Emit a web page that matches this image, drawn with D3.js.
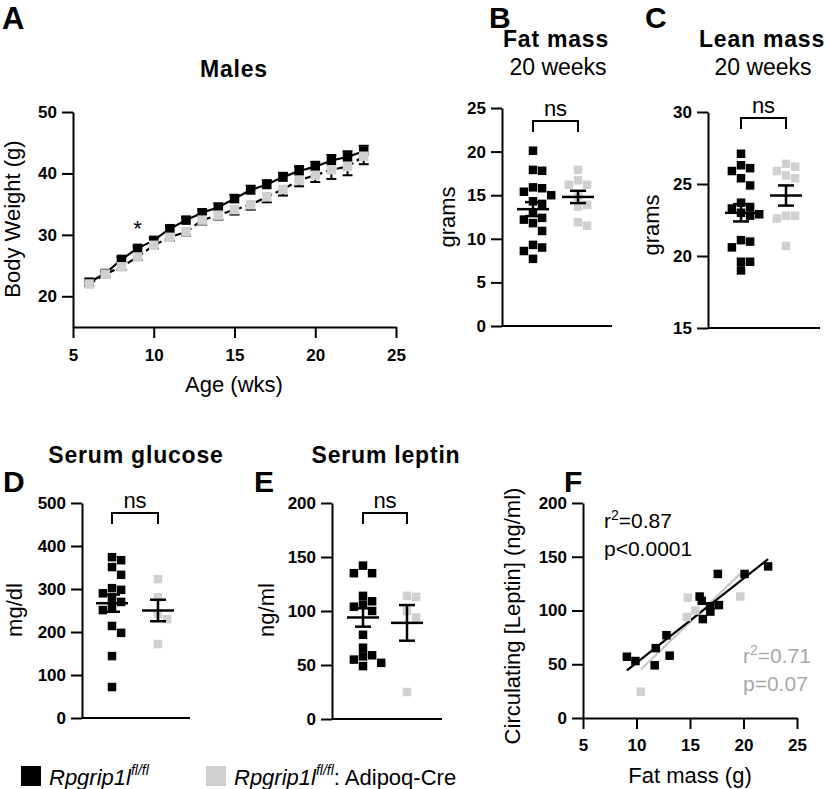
<!DOCTYPE html>
<html><head><meta charset="utf-8">
<script src="https://cdn.jsdelivr.net/npm/d3@7"></script>
<style>
body{margin:0;background:#fff;}
svg{font-family:"Liberation Sans",Arial,sans-serif;}
</style></head>
<body><svg id="c" width="830" height="789"></svg>
<script>
// ---------- DATA ----------
const groups = ["ctrl", "cre"];
const colors = {ctrl: "#000000", cre: "#d0d0d0"};
// Panel A: body weight by age
const weeks = [6,7,8,9,10,11,12,13,14,15,16,17,18,19,20,21,22,23];
const weightCtrl = [22.3,23.7,26.0,27.8,29.1,31.0,32.4,33.6,34.5,35.9,37.3,38.2,39.4,40.4,41.1,42.1,42.7,43.6];
const weightCre  = [22.0,23.6,24.8,26.4,28.3,29.6,30.5,32.4,33.2,34.1,34.9,36.2,37.4,38.9,39.7,40.6,41.1,42.8];
const weightCtrlSem = [0.3,0.3,0.4,0.4,0.4,0.5,0.5,0.5,0.6,0.6,0.7,0.7,0.7,0.8,0.8,0.9,0.9,0.9];
const weightCreSem  = [0.3,0.4,0.5,0.5,0.5,0.6,0.6,0.7,0.7,0.8,0.8,0.9,1.0,1.0,1.1,1.5,1.4,1.3];
const ageTicks = [5,10,15,20,25];
const weightTicks = [20,30,40,50];
// Panel B: fat mass
const fatCtrl = [20.1,17.9,17.8,15.9,15.8,15.4,15.0,14.3,14.0,13.0,12.4,12.2,11.8,10.9,9.3,9.0,8.6,7.7];
const fatCre  = [17.9,16.7,16.2,16.2,14.8,13.9,13.7,11.9,11.5];
const fatMean = [13.4,14.8], fatSem = [0.8,0.7];
const fatTicks = [0,5,10,15,20,25];
// Panel C: lean mass
const leanCtrl = [27.1,26.3,26.1,25.9,25.4,24.9,23.7,23.4,23.3,23.0,22.9,22.8,21.1,21.0,20.6,19.6,19.6,19.0];
const leanCre  = [26.4,26.2,25.9,25.6,25.4,22.8,22.6,22.8,20.7];
const leanMean = [23.0,24.2], leanSem = [0.6,0.7];
const leanTicks = [15,20,25,30];
// Panel D: serum glucose
const gluCtrl = [374,367,351,333,302,298,290,280,270,258,251,214,198,144,72];
const gluCre  = [323,281,242,230,172];
const gluMean = [267,250], gluSem = [20,25];
const gluTicks = [0,100,200,300,400,500];
// Panel E: serum leptin
const lepCtrl = [142,135,135,114,109,106,104,100,78,66,59,58,55,52,49];
const lepCre  = [113,114,100,94,25];
const lepMean = [94,89], lepSem = [8.5,16.5];
const lepTicks = [0,50,100,150,200];
// Panel F: leptin vs fat mass
const corrCtrlFat = [9.1,9.9,11.8,11.7,12.8,13.1,15.9,16.1,16.2,16.9,16.9,17.7,17.6,20.1,22.3];
const corrCtrlLep = [57,53,65,49,77,58,113,109,92,99,104,105,134,134,141];
const corrCreFat = [10.4,14.8,14.7,15.5,19.7];
const corrCreLep = [24.5,112,94,100,113];
const fitSlope = [7.85,9.6], fitIntercept = [-27.2,-54.8];
const corrTicksX = [5,10,15,20,25];
const corrTicksY = [0,50,100,150,200];

// ---------- DRAW ----------
const svg = d3.select("#c");
const TICKFONT = "bold 17px 'Liberation Sans',Arial,sans-serif";

function styleAxis(g){
  g.selectAll("path,line").attr("stroke","#000").attr("stroke-width",2);
  g.selectAll("text").style("font", TICKFONT).attr("fill","#000");
}
function leftAxis(scale, x, ticks){
  const g = svg.append("g").attr("transform",`translate(${x},0)`)
    .call(d3.axisLeft(scale).tickValues(ticks).tickSize(11).tickSizeOuter(0).tickPadding(5));
  styleAxis(g); return g;
}
function bottomAxis(scale, y, ticks, pad){
  const g = svg.append("g").attr("transform",`translate(0,${y})`)
    .call(d3.axisBottom(scale).tickValues(ticks).tickSize(11).tickSizeOuter(0).tickPadding(pad));
  styleAxis(g); return g;
}
function text(x,y,s,opts={}){
  const t = svg.append("text").attr("x",x).attr("y",y).text(s)
    .attr("font-size",opts.size||22).attr("font-weight",opts.bold?"bold":"normal")
    .attr("text-anchor",opts.anchor||"middle").attr("fill",opts.fill||"#000");
  if(opts.ls) t.attr("letter-spacing",opts.ls);
  if(opts.rotate) t.attr("transform",`rotate(-90,${x},${y})`);
  return t;
}
function title(x,y,s){ return text(x,y,s,{bold:true,size:23,ls:0.8}); }
function rotLabel(x,y,s){ return text(x,y,s,{rotate:true}); }

function swarm(values, yScale, cx, size){
  const pts = values.map(v=>({v, y:yScale(v)})).sort((a,b)=>a.y-b.y);
  const placed=[]; const step=size+0.6;
  pts.forEach(p=>{
    for(let k=0;k<30;k++){
      const off=(k%2===1?1:-1)*Math.ceil(k/2)*step;
      const x=cx+off;
      if(placed.every(q=>Math.abs(q.x-x)>=size*0.98||Math.abs(q.y-p.y)>=size*0.98)){p.x=x;break;}
    }
    placed.push(p);
  });
  return pts;
}

function dotPanel(cfg){
  const y = d3.scaleLinear().domain(cfg.domain).range([cfg.bottom, cfg.top]);
  const x = d3.scalePoint().domain(groups).range(cfg.centers);
  leftAxis(y, cfg.axisX, cfg.ticks);
  svg.append("line").attr("x1",cfg.axisX).attr("x2",cfg.axisEnd).attr("y1",cfg.bottom).attr("y2",cfg.bottom)
    .attr("stroke","#000").attr("stroke-width",2);
  const S=8.5;
  [cfg.ctrl,cfg.cre].forEach((vals,gi)=>{
    const pts = swarm(vals,y,x(groups[gi]),S);
    svg.append("g").selectAll("rect").data(pts).join("rect")
      .attr("x",d=>d.x-S/2).attr("y",d=>d.y-S/2).attr("width",S).attr("height",S)
      .attr("fill",colors[groups[gi]]);
  });
  groups.forEach((g,gi)=>{
    const cx=x(g), m=cfg.mean[gi], s=cfg.sem[gi];
    const G=svg.append("g").attr("stroke","#000").attr("stroke-width",2.5);
    G.append("line").attr("x1",cx-16).attr("x2",cx+16).attr("y1",y(m)).attr("y2",y(m));
    G.append("line").attr("x1",cx).attr("x2",cx).attr("y1",y(m-s)).attr("y2",y(m+s));
    G.append("line").attr("x1",cx-8).attr("x2",cx+8).attr("y1",y(m-s)).attr("y2",y(m-s));
    G.append("line").attr("x1",cx-8).attr("x2",cx+8).attr("y1",y(m+s)).attr("y2",y(m+s));
  });
  const bx1=x(groups[0]), bx2=x(groups[1]);
  svg.append("path").attr("d",`M${bx1},${cfg.brY+11}V${cfg.brY}H${bx2}V${cfg.brY+11}`)
    .attr("fill","none").attr("stroke","#000").attr("stroke-width",2);
  text((bx1+bx2)/2, cfg.brY-5, "ns");
  return y;
}

// ----- Panel A -----
{
  const x = d3.scaleLinear().domain([5,25]).range([73,396]);
  const y = d3.scaleLinear().domain([15,50]).range([327,112]);
  leftAxis(y,73,weightTicks);
  bottomAxis(x,327,ageTicks,11);
  const line = d3.line().x((d,i)=>x(weeks[i])).y(d=>y(d));
  svg.append("path").datum(weightCre).attr("d",line).attr("fill","none")
    .attr("stroke","#000").attr("stroke-width",2.2).attr("stroke-dasharray","7,4");
  svg.append("path").datum(weightCtrl).attr("d",line).attr("fill","none")
    .attr("stroke","#000").attr("stroke-width",2.2);
  const S=9.5;
  weeks.forEach((w,i)=>{
    const cx=x(w);
    const e1=svg.append("g").attr("stroke","#000").attr("stroke-width",2);
    e1.append("line").attr("x1",cx).attr("x2",cx).attr("y1",y(weightCtrl[i])).attr("y2",y(weightCtrl[i]+weightCtrlSem[i]));
    e1.append("line").attr("x1",cx-5).attr("x2",cx+5).attr("y1",y(weightCtrl[i]+weightCtrlSem[i])).attr("y2",y(weightCtrl[i]+weightCtrlSem[i]));
    e1.append("line").attr("x1",cx).attr("x2",cx).attr("y1",y(weightCre[i])).attr("y2",y(weightCre[i]-weightCreSem[i]));
    e1.append("line").attr("x1",cx-5).attr("x2",cx+5).attr("y1",y(weightCre[i]-weightCreSem[i])).attr("y2",y(weightCre[i]-weightCreSem[i]));
  });
  svg.append("g").selectAll("rect").data(weightCtrl).join("rect")
    .attr("x",(d,i)=>x(weeks[i])-S/2).attr("y",d=>y(d)-S/2).attr("width",S).attr("height",S).attr("fill",colors.ctrl);
  svg.append("g").selectAll("rect").data(weightCre).join("rect")
    .attr("x",(d,i)=>x(weeks[i])-S/2).attr("y",d=>y(d)-S/2).attr("width",S).attr("height",S).attr("fill",colors.cre);
  text(x(weeks[3]), y(weightCtrl[3])-12, "*", {size:22});
  title(234, 77, "Males");
  text(234, 392, "Age (wks)");
  rotLabel(20, 219, "Body Weight (g)");
  text(2, 29, "A", {size:31,bold:true,anchor:"start"});
}

// ----- Panel B -----
dotPanel({domain:[0,25],top:108,bottom:326,axisX:502,axisEnd:612,centers:[533,578],
  ticks:fatTicks,ctrl:fatCtrl,cre:fatCre,mean:fatMean,sem:fatSem,brY:121});
title(556,47,"Fat mass");
text(558,75,"20 weeks",{size:23});
rotLabel(455,217,"grams");
text(489,28,"B",{size:30,bold:true,anchor:"start"});

// ----- Panel C -----
dotPanel({domain:[15,30],top:112,bottom:328,axisX:708,axisEnd:820,centers:[741,786],
  ticks:leanTicks,ctrl:leanCtrl,cre:leanCre,mean:leanMean,sem:leanSem,brY:118});
title(762,47,"Lean mass");
text(763,75,"20 weeks",{size:23});
rotLabel(659,225,"grams");
text(645,28,"C",{size:30,bold:true,anchor:"start"});

// ----- Panel D -----
dotPanel({domain:[0,500],top:503,bottom:718,axisX:82,axisEnd:190,centers:[112,158],
  ticks:gluTicks,ctrl:gluCtrl,cre:gluCre,mean:gluMean,sem:gluSem,brY:513});
title(136,463,"Serum glucose");
rotLabel(22,610,"mg/dl");
text(3,492,"D",{size:30,bold:true,anchor:"start"});

// ----- Panel E -----
dotPanel({domain:[0,200],top:503,bottom:719,axisX:332,axisEnd:442,centers:[363,407],
  ticks:lepTicks,ctrl:lepCtrl,cre:lepCre,mean:lepMean,sem:lepSem,brY:513});
title(386,463,"Serum leptin");
rotLabel(274,610,"ng/ml");
text(254,492,"E",{size:30,bold:true,anchor:"start"});

// ----- Panel F -----
{
  const x = d3.scaleLinear().domain([5,25]).range([583,797]);
  const y = d3.scaleLinear().domain([0,200]).range([718,503]);
  leftAxis(y,583,corrTicksY);
  bottomAxis(x,718,corrTicksX,10);
  const fits=[[corrCreFat,1,"#c8c8c8"],[corrCtrlFat,0,"#000"]];
  fits.forEach(([fx,gi,col])=>{
    const [a,b]=d3.extent(fx);
    svg.append("line").attr("x1",x(a)).attr("x2",x(b))
      .attr("y1",y(fitIntercept[gi]+fitSlope[gi]*a)).attr("y2",y(fitIntercept[gi]+fitSlope[gi]*b))
      .attr("stroke",col).attr("stroke-width",2.2);
  });
  const S=8.5;
  svg.append("g").selectAll("rect").data(corrCreFat).join("rect")
    .attr("x",(d)=>x(d)-S/2).attr("y",(d,i)=>y(corrCreLep[i])-S/2).attr("width",S).attr("height",S).attr("fill",colors.cre);
  svg.append("g").selectAll("rect").data(corrCtrlFat).join("rect")
    .attr("x",(d)=>x(d)-S/2).attr("y",(d,i)=>y(corrCtrlLep[i])-S/2).attr("width",S).attr("height",S).attr("fill",colors.ctrl);
  const r1=text(604,528,"r",{anchor:"start",size:21});
  r1.append("tspan").attr("dy",-8).attr("font-size",14).text("2");
  r1.append("tspan").attr("dy",8).text("=0.87");
  text(604,556,"p<0.0001",{anchor:"start",size:21});
  const r2=text(743,663,"r",{anchor:"start",size:21,fill:"#a8a8a8"});
  r2.append("tspan").attr("dy",-8).attr("font-size",14).text("2");
  r2.append("tspan").attr("dy",8).text("=0.71");
  text(743,691,"p=0.07",{anchor:"start",size:21,fill:"#a8a8a8"});
  text(690,783,"Fat mass (g)");
  rotLabel(520,616,"Circulating [Leptin] (ng/ml)");
  text(564,492,"F",{size:30,bold:true,anchor:"start"});
}

// ----- Legend -----
{
  const items=[{g:"ctrl",x:21,suffix:""},{g:"cre",x:206,suffix:": Adipoq-Cre"}];
  items.forEach(it=>{
    svg.append("rect").attr("x",it.x).attr("y",766).attr("width",20).attr("height",20).attr("fill",colors[it.g]);
    const t=svg.append("text").attr("x",it.x+28).attr("y",785).attr("font-size",22);
    t.append("tspan").attr("font-style","italic").text("Rpgrip1l");
    t.append("tspan").attr("font-style","italic").attr("font-size",14).attr("dy",-10).text("fl/fl");
    if(it.suffix) t.append("tspan").attr("dy",10).text(it.suffix);
  });
}
</script></body></html>
